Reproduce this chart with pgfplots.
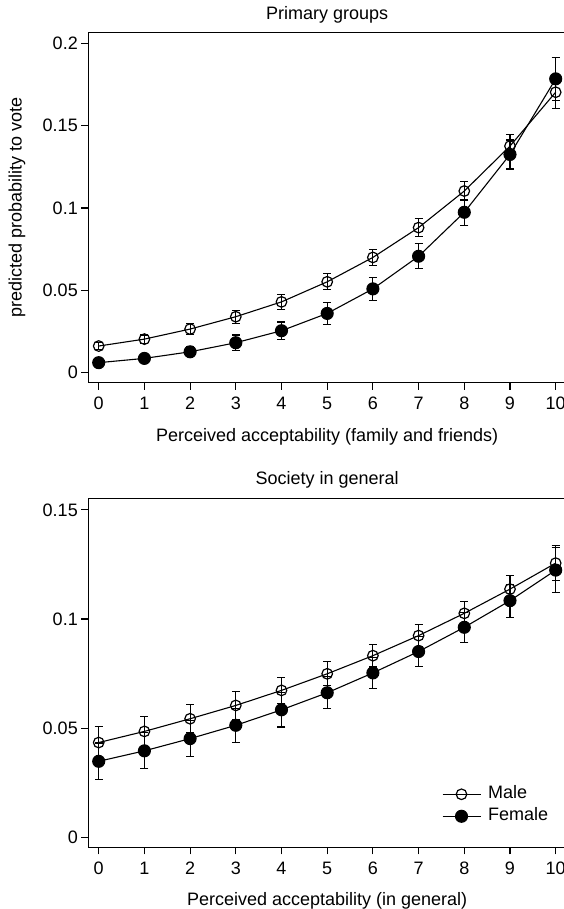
\documentclass[border=0pt]{standalone}
\usepackage{fontspec}
\setmainfont{Liberation Sans}
\usepackage{pgfplots}
\usepackage{pgfplotstable}
\pgfplotsset{compat=1.18}

\newcommand\fs{\fontsize{18}{21.5}\selectfont}

% x  male  male-err  female  female-err
\pgfplotstableread{
x m me f fe
0 0.0162 0.0020 0.0061 0.0020
1 0.0204 0.0025 0.0087 0.0020
2 0.0265 0.0035 0.0127 0.0030
3 0.0340 0.0040 0.0182 0.0047
4 0.0430 0.0047 0.0255 0.0053
5 0.0552 0.0048 0.0360 0.0065
6 0.0700 0.0050 0.0509 0.0071
7 0.0881 0.0054 0.0707 0.0075
8 0.1103 0.0059 0.0974 0.0078
9 0.1376 0.0071 0.1325 0.0088
10 0.1703 0.0097 0.1784 0.0130
}\primary

\pgfplotstableread{
x m me f fe
0 0.0434 0.0072 0.0348 0.0084
1 0.0485 0.0068 0.0396 0.0082
2 0.0543 0.0064 0.0452 0.0084
3 0.0604 0.0064 0.0513 0.0079
4 0.0673 0.0060 0.0584 0.0079
5 0.0749 0.0055 0.0662 0.0073
6 0.0832 0.0052 0.0753 0.0070
7 0.0924 0.0050 0.0851 0.0067
8 0.1026 0.0053 0.0962 0.0068
9 0.1137 0.0061 0.1084 0.0076
10 0.1256 0.0079 0.1224 0.0102
}\society

\pgfplotsset{
  rplot/.style={
    scale only axis,
    width=477.7pt,
    anchor=north west,
    xmin=-0.2276, xmax=10.2257,
    xtick={0,...,10},
    /pgf/number format/assume math mode=true,
    axis x line*=box,
    axis y line*=left,
    tick pos=left,
    tick align=outside,
    major tick length=7pt,
    axis line style={line width=1.2pt, -},
    every tick/.style={black, line width=1.1pt},
    tick label style={font=\fs},
    xticklabel style={yshift=-4pt},
    label style={font=\fs},
    title style={font=\fs},
    every axis title shift=0pt,
    legend style={font=\fs},
  },
  male/.style={black, line width=1.1pt, mark=o,
    mark options={solid, line width=1.2pt, mark size=5.3pt},
    error bars/.cd, y dir=both, y explicit,
    error bar style={line width=1.1pt},
    error mark options={rotate=90, line width=1.1pt, mark size=4pt}},
  female/.style={black, line width=1.1pt, mark=*,
    mark options={solid, fill=black, mark size=6pt},
    error bars/.cd, y dir=both, y explicit,
    error bar style={line width=1.1pt},
    error mark options={rotate=90, line width=1.1pt, mark size=4pt}},
}

\begin{document}
\begin{tikzpicture}
\useasboundingbox (0,0) rectangle (564pt,-909pt);
\clip (0,0) rectangle (564pt,-909pt);

\begin{axis}[rplot,
  at={(88.3pt,-32.5pt)},
  height=350.2pt,
  ymin=-0.00606, ymax=0.20655,
  ytick={0,0.05,0.1,0.15,0.2},
  yticklabels={0,0.05,0.1,0.15,0.2},
  title={Primary groups},
  title style={at={(axis description cs:0.5,1.05)}, anchor=center},
  xlabel={Perceived acceptability (family and friends)},
  xlabel style={at={(axis description cs:0.5,-0.1665)}, anchor=base},
  ylabel={predicted probability to vote},
  ylabel style={at={(axis description cs:-0.1493,0.5)}, anchor=center},
]
\addplot[male] table[x=x, y=m, y error=me] {\primary};
\addplot[female] table[x=x, y=f, y error=fe] {\primary};
\end{axis}

\begin{axis}[rplot,
  at={(88.3pt,-498.3pt)},
  height=349pt,
  ymin=-0.0046, ymax=0.1553,
  ytick={0,0.05,0.1,0.15},
  yticklabels={0,0.05,0.1,0.15},
  title={Society in general},
  title style={at={(axis description cs:0.5,1.0524)}, anchor=center},
  xlabel={Perceived acceptability (in general)},
  xlabel style={at={(axis description cs:0.5,-0.1653)}, anchor=base},
  legend style={draw=none, fill=none, at={(axis description cs:0.7399,0.1204)},
    anchor=west, inner sep=0pt, row sep=0pt,
    nodes={inner sep=3pt, text height=12.5pt, text depth=3.5pt}},
  legend cell align=left,
  legend image code/.code={\draw[#1] (0pt,0pt) -- (38pt,0pt);
    \draw[#1] plot coordinates {(19pt,0pt)};},
  /tikz/every odd column/.append style={column sep=4pt},
]
\addplot[male] table[x=x, y=m, y error=me] {\society};
\addlegendentry{Male}
\addplot[female] table[x=x, y=f, y error=fe] {\society};
\addlegendentry{Female}
\end{axis}
\end{tikzpicture}
\end{document}
